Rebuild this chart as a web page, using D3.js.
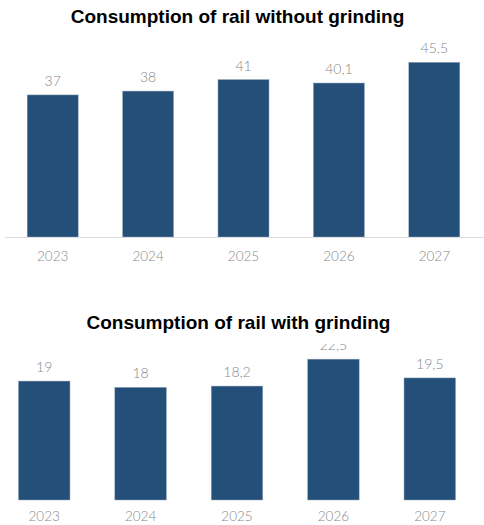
<!DOCTYPE html>
<html>
<head>
<meta charset="utf-8">
<script src="https://cdn.jsdelivr.net/npm/d3@7"></script>
<style>
  html, body { margin: 0; padding: 0; background: #fff; }
  svg { display: block; }
  .title { font-family: "Liberation Sans", Arial, sans-serif; font-weight: bold; font-size: 19px; fill: #000; }
  .val, .yr { font-family: Lato, "Open Sans", sans-serif; font-weight: 300; fill: #888; }
  .val { font-size: 14px; }
  .yr { font-size: 13.5px; }
</style>
</head>
<body>
<script>
// Rail consumption by year, without and with grinding
const years = ["2023", "2024", "2025", "2026", "2027"];
const withoutGrinding = [37, 38, 41, 40.1, 45.5];
const withGrinding = [19, 18, 18.2, 22.5, 19.5];
const valueLabels1 = ["37", "38", "41", "40,1", "45,5"];
const valueLabels2 = ["19", "18", "18,2", "22,5", "19,5"];

const W = 484, H = 525;
const barColor = "#234f78";

const svg = d3.select("body").append("svg")
  .attr("width", W).attr("height", H);

function panel(cfg) {
  const g = svg.append("g");

  g.append("text").attr("class", "title")
    .attr("x", cfg.titleX).attr("y", cfg.titleY)
    .attr("text-anchor", "middle")
    .text(cfg.title);

  const x = d3.scaleBand().domain(years)
    .range(cfg.xRange).paddingInner(0.465).paddingOuter(0.2325);
  const y = d3.scaleLinear().domain(cfg.yDomain).range(cfg.yRange);

  const clipId = cfg.id + "-clip";
  svg.append("defs").append("clipPath").attr("id", clipId)
    .append("rect").attr("x", 0).attr("y", cfg.clipTop)
    .attr("width", W).attr("height", H - cfg.clipTop);

  const plot = g.append("g").attr("clip-path", `url(#${clipId})`);

  plot.selectAll("rect.bar").data(cfg.values).join("rect")
    .attr("class", "bar")
    .attr("x", (d, i) => x(years[i]))
    .attr("width", x.bandwidth())
    .attr("y", d => y(d))
    .attr("height", d => y(0) - y(d))
    .attr("fill", barColor)
    .attr("stroke", "#9aabbd")
    .attr("stroke-width", 0.5);

  plot.selectAll("text.val").data(cfg.values).join("text")
    .attr("class", "val")
    .attr("x", (d, i) => x(years[i]) + x.bandwidth() / 2)
    .attr("y", d => y(d) - 9)
    .attr("text-anchor", "middle")
    .text((d, i) => cfg.labels[i]);

  if (cfg.axisLine) {
    g.append("line")
      .attr("x1", 5).attr("x2", W)
      .attr("y1", y(0) + 0.5).attr("y2", y(0) + 0.5)
      .attr("stroke", "#dcdcdc").attr("stroke-width", 1);
  }

  const axis = d3.axisBottom(x).tickSize(0).tickPadding(0);
  const ax = g.append("g").attr("transform", `translate(0,${cfg.yearBaseline})`).call(axis);
  ax.select(".domain").remove();
  ax.selectAll("text").attr("class", "yr").attr("dy", 0).attr("y", 0).attr("fill", null);
}

panel({
  id: "p1",
  title: "Consumption of rail without grinding",
  titleX: 237.5, titleY: 23,
  values: withoutGrinding, labels: valueLabels1,
  xRange: [5, 482],
  yDomain: [0, 50], yRange: [237, 237 - 50 * 3.84],
  clipTop: 30,
  axisLine: true,
  yearBaseline: 261
});

panel({
  id: "p2",
  title: "Consumption of rail with grinding",
  titleX: 238.5, titleY: 329,
  values: withGrinding, labels: valueLabels2,
  xRange: [-4, 478],
  yDomain: [0, 25], yRange: [500, 500 - 25 * 6.26],
  clipTop: 344,
  axisLine: false,
  yearBaseline: 521
});
</script>
</body>
</html>
